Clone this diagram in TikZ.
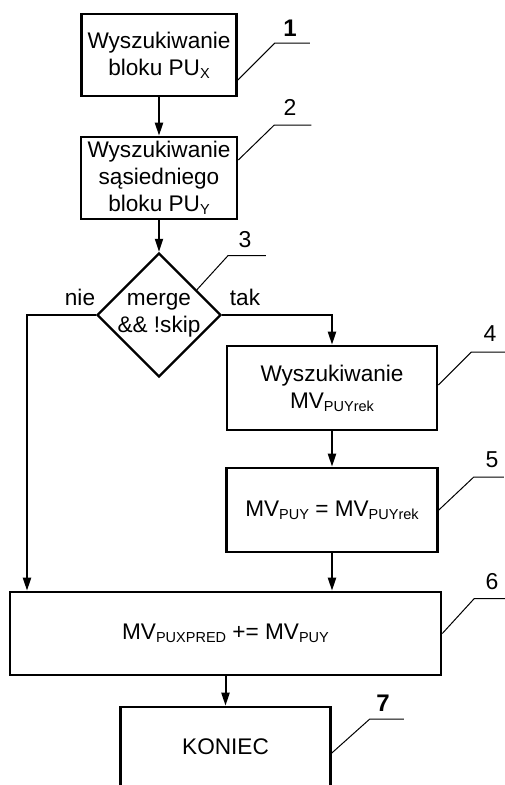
\documentclass[tikz,border=0pt]{standalone}
\usepackage{fontspec}
\setmainfont{Liberation Sans}
\usetikzlibrary{arrows.meta,shapes.geometric,calc}
\newcommand{\lowsub}[1]{\raisebox{-3pt}{\fontsize{14.5}{14.5}\selectfont #1}}
\begin{document}
\begin{tikzpicture}[x=1pt,y=-1pt,
 every node/.style={font=\fontsize{22.6}{27}\selectfont},
 box/.style={draw, line width=2.6pt, align=center, inner sep=0pt},
 dia/.style={draw, diamond, aspect=1, line width=2.4pt, inner sep=0pt, minimum width=124pt, minimum height=124pt},
 flow/.style={line width=2pt, -{Triangle[length=13pt,width=8pt]}},
 leader/.style={line width=1pt},
 num/.style={font=\fontsize{23}{23}\selectfont},
 numb/.style={font=\fontsize{24}{24}\selectfont\bfseries}]
\useasboundingbox (0,0) rectangle (505,785);

\node[box, minimum width=155pt, minimum height=82pt] (b1) at (159,55) {Wyszukiwanie\\bloku PU\lowsub{X}};
\node[box, minimum width=156pt, minimum height=82pt] (b2) at (159,178) {Wyszukiwanie\\sąsiedniego\\bloku PU\lowsub{Y}};
\node[dia] (d3) at (159,315) {};
\node[align=center] (d3t) at (159,315) {merge\\\&\& !skip};
\node[box, minimum width=210pt, minimum height=84pt] (b4) at (332,388) {Wyszukiwanie\\MV\lowsub{PUYrek}};
\node[box, minimum width=211pt, minimum height=84pt] (b5) at (332,510) {MV\lowsub{PUY} = MV\lowsub{PUYrek}};
\node[box, minimum width=431pt, minimum height=83pt] (b6) at (225.5,633.5) {MV\lowsub{PUXPRED} += MV\lowsub{PUY}};
\node[box, minimum width=210pt, minimum height=80pt] (b7) at (225.5,747) {KONIEC};

\node (nie) at (80,297) {nie};
\node (tak) at (245,297) {tak};

\coordinate (lx) at (27,315);
\draw[flow] (b1.south) -- (b2.north);
\draw[flow] (b2.south) -- (d3.north);
\draw[flow] (d3.east) -| (b4.north);
\draw[flow] (d3.west) -- (lx) -- (lx |- b6.north);
\draw[flow] (b4.south) -- (b5.north);
\draw[flow] (b5.south) -- (b5.south |- b6.north);
\draw[flow] (b6.south -| b7.north) -- (b7.north);

\draw[leader] (b1.east) ++(0,25) -- ++(37,-37) -- ++(35,0);
\draw[leader] (b2.east) ++(0,-18) -- ++(36,-35) -- ++(37,0);
\draw[leader] ($(d3.north)!0.6!(d3.east)$) -- ++(31,-34) -- ++(38,0);
\draw[leader] (b4.east) ++(0,-3) -- ++(33,-33) -- ++(35,0);
\draw[leader] (b5.east) -- ++(35,-33) -- ++(30,0);
\draw[leader] (b6.east) -- ++(32,-35) -- ++(32,0);
\draw[leader] (b7.east) ++(0,6) -- ++(38,-34) -- ++(34,0);

\node[numb] (n1) at (290,28) {1};
\node[num] (n2) at (290,107) {2};
\node[num] (n3) at (245,240) {3};
\node[num] (n4) at (490,334) {4};
\node[num] (n5) at (492,460) {5};
\node[num] (n6) at (492,582) {6};
\node[numb] (n7) at (383,703) {7};
\end{tikzpicture}
\end{document}
